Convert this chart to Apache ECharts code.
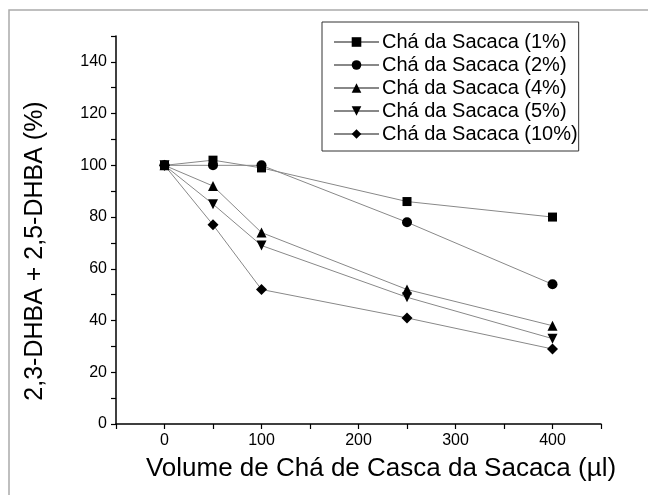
<!DOCTYPE html>
<html>
<head>
<meta charset="utf-8">
<script src="https://cdn.jsdelivr.net/npm/echarts@6/dist/echarts.min.js"></script>
<style>
  html, body { margin: 0; padding: 0; background: #fff; }
  #main { width: 648px; height: 495px; }
</style>
</head>
<body>
<div id="main"></div>
<script>
// 数据
var volumes = [0, 50, 100, 250, 400];
var seriesNames = ['Chá da Sacaca (1%)', 'Chá da Sacaca (2%)', 'Chá da Sacaca (4%)', 'Chá da Sacaca (5%)', 'Chá da Sacaca (10%)'];
var sacaca1 = [100, 102, 99, 86, 80];
var sacaca2 = [100, 100, 100, 78, 54];
var sacaca4 = [100, 92, 74, 52, 38];
var sacaca5 = [100, 85, 69, 49, 33];
var sacaca10 = [100, 77, 52, 41, 29];
var xTicks = [0, 100, 200, 300, 400];
var yTicks = [0, 20, 40, 60, 80, 100, 120, 140];

var chart = echarts.init(document.getElementById('main'));
var symbols = ['rect', 'circle', 'triangle', 'path://M0,0 L10,0 L5,10 Z', 'diamond'];
var sizes = [9, 10, 10, 10, 11];
var allData = [sacaca1, sacaca2, sacaca4, sacaca5, sacaca10];

var series = [];
for (var i = 0; i < allData.length; i++) {
    var pts = [];
    for (var j = 0; j < volumes.length; j++) {
        pts.push([volumes[j], allData[i][j]]);
    }
    series.push({
        name: seriesNames[i],
        type: 'line',
        data: pts,
        symbol: symbols[i],
        symbolSize: sizes[i],
        itemStyle: { color: '#000' },
        lineStyle: { color: '#888', width: 1 },
        emphasis: { disabled: true }
    });
}

var font = 'Liberation Sans, Arial, sans-serif';

var option = {
    animation: false,
    textStyle: { fontFamily: font },
    graphic: [{
        type: 'rect',
        shape: { x: 9, y: 10, width: 700, height: 600 },
        style: { fill: 'none', stroke: '#aaa', lineWidth: 1.5 },
        silent: true
    }],
    legend: {
        orient: 'vertical',
        left: 322,
        top: 22,
        padding: [10, 1, 7, 11],
        itemWidth: 45,
        itemHeight: 12,
        itemGap: 3,
        borderColor: '#333',
        borderWidth: 1,
        borderRadius: 0,
        itemStyle: { color: '#000' },
        textStyle: { fontSize: 20, color: '#000', fontFamily: font, padding: [0, 0, 0, -2] },
        data: seriesNames
    },
    grid: { left: 116, right: 47, top: 36, bottom: 71, containLabel: false },
    xAxis: {
        type: 'value',
        min: -50,
        max: 450,
        interval: 50,
        name: 'Volume de Chá de Casca da Sacaca (µl)',
        nameLocation: 'middle',
        nameGap: 32,
        nameTextStyle: { fontSize: 26, color: '#000', padding: [0, 0, 0, 45] },
        axisLine: { onZero: false, lineStyle: { color: '#000', width: 1.5 } },
        axisTick: { length: 5, lineStyle: { color: '#000', width: 1.2 } },
        splitLine: { show: false },
        axisLabel: {
            fontSize: 16, color: '#000', margin: 9,
            formatter: function (v) { return xTicks.indexOf(v) >= 0 ? String(v) : ''; }
        }
    },
    yAxis: {
        type: 'value',
        min: 0,
        max: 150,
        interval: 10,
        name: '2,3-DHBA + 2,5-DHBA (%)',
        nameLocation: 'middle',
        nameGap: 68,
        nameTextStyle: { fontSize: 25, color: '#000', padding: [0, 42, 0, 0] },
        axisLine: { show: true, onZero: false, lineStyle: { color: '#000', width: 1.5 } },
        axisTick: { length: 5, lineStyle: { color: '#000', width: 1.2 } },
        splitLine: { show: false },
        axisLabel: {
            fontSize: 16, color: '#000', margin: 9,
            formatter: function (v) { return yTicks.indexOf(v) >= 0 ? String(v) : ''; }
        }
    },
    series: series
};

chart.setOption(option);
window.onresize = function () { chart.resize(); };
</script>
</body>
</html>
